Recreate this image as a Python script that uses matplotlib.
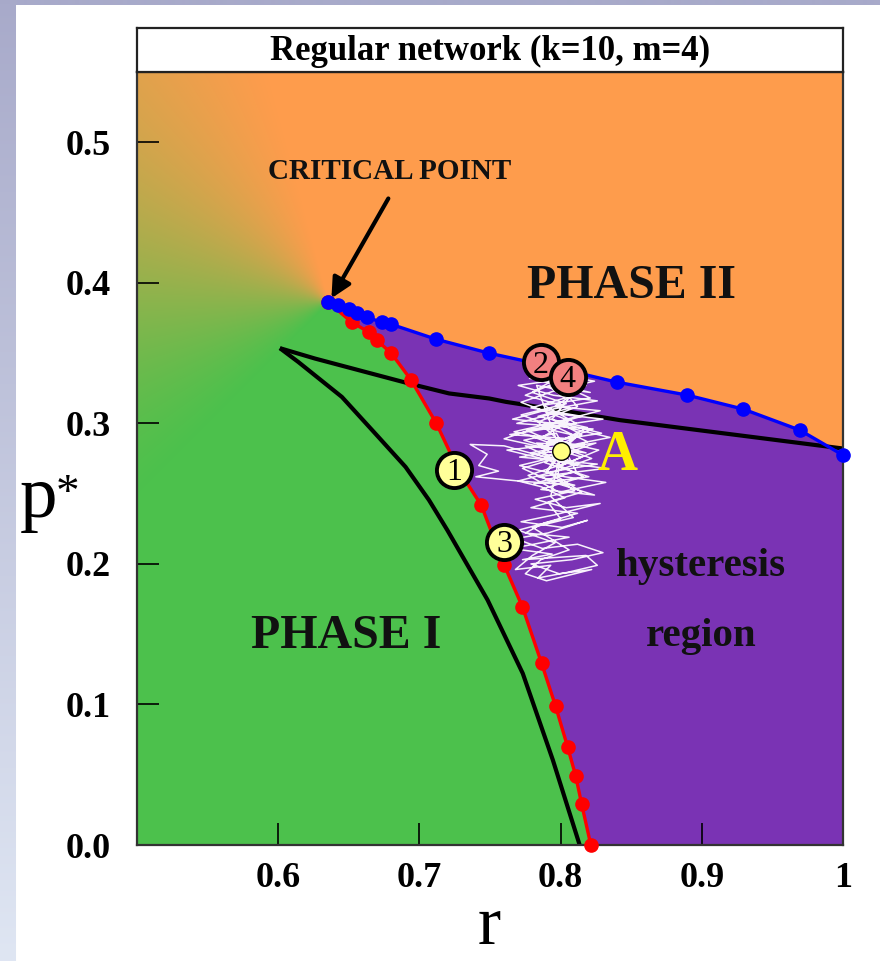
import numpy as np
import matplotlib
matplotlib.use("Agg")
import matplotlib.pyplot as plt

# ---- data -------------------------------------------------------------
# upper spinodal (blue): r, p*
blue_r = [0.6356, 0.6427, 0.6498, 0.6555, 0.6626, 0.6733, 0.6797, 0.7117,
          0.7495, 0.7950, 0.8399, 0.8897, 0.9295, 0.9694, 1.0000]
blue_p = [0.3862, 0.3841, 0.3812, 0.3784, 0.3755, 0.3720, 0.3706, 0.3599,
          0.3499, 0.3400, 0.3293, 0.3201, 0.3101, 0.2952, 0.2774]

# lower spinodal (red): r, p*
red_r = [0.6356, 0.6520, 0.6640, 0.6700, 0.6800, 0.6940, 0.7120, 0.7270,
         0.7438, 0.7601, 0.7730, 0.7865, 0.7964, 0.8050, 0.8107, 0.8149, 0.8214]
red_p = [0.3862, 0.3720, 0.3650, 0.3590, 0.3500, 0.3310, 0.3000, 0.2680,
         0.2418, 0.1991, 0.1693, 0.1294, 0.0989, 0.0697, 0.0491, 0.0292, 0.0000]

# black curves from the cusp
upper_r = [0.6012, 0.6261, 0.6617, 0.6925, 0.7210, 0.7495, 0.7613, 0.8064,
           0.8420, 1.0000]
upper_p = [0.3535, 0.3461, 0.3366, 0.3284, 0.3213, 0.3177, 0.3153, 0.3082,
           0.3023, 0.2821]
lower_r = [0.6012, 0.6142, 0.6451, 0.6688, 0.6902, 0.7068, 0.7198, 0.7483,
           0.7732, 0.7945, 0.8135]
lower_p = [0.3535, 0.3437, 0.3188, 0.2927, 0.2690, 0.2454, 0.2240, 0.1743,
           0.1221, 0.0605, 0.0000]

# trajectory around point A
traj = [
    (0.800, 0.280), (0.812, 0.291), (0.786, 0.297), (0.815, 0.305), (0.779, 0.311),
    (0.803, 0.318), (0.792, 0.326), (0.821, 0.322), (0.783, 0.331), (0.808, 0.336),
    (0.776, 0.340), (0.798, 0.344), (0.812, 0.333), (0.770, 0.327), (0.795, 0.320),
    (0.826, 0.316), (0.788, 0.309), (0.766, 0.303), (0.805, 0.299), (0.829, 0.293),
    (0.790, 0.287), (0.818, 0.279), (0.775, 0.284), (0.801, 0.272), (0.832, 0.268),
    (0.784, 0.262), (0.810, 0.256), (0.770, 0.259), (0.797, 0.266), (0.822, 0.275),
    (0.779, 0.291), (0.806, 0.286), (0.762, 0.281), (0.791, 0.274), (0.816, 0.262),
    (0.786, 0.253), (0.824, 0.249), (0.795, 0.258), (0.773, 0.268), (0.809, 0.279),
    (0.784, 0.301), (0.812, 0.312), (0.795, 0.331), (0.780, 0.322), (0.804, 0.314),
    (0.772, 0.306), (0.800, 0.296), (0.819, 0.287), (0.789, 0.276),
    (0.760, 0.284), (0.736, 0.285), (0.748, 0.278), (0.742, 0.270), (0.756, 0.266),
    (0.740, 0.262), (0.770, 0.259), (0.786, 0.255),
    (0.803, 0.247), (0.779, 0.240), (0.812, 0.236), (0.788, 0.229), (0.775, 0.222),
    (0.806, 0.219), (0.781, 0.214), (0.765, 0.211), (0.794, 0.207), (0.773, 0.203),
    (0.818, 0.206), (0.826, 0.199), (0.805, 0.194), (0.784, 0.190), (0.793, 0.199),
    (0.768, 0.196), (0.780, 0.206), (0.796, 0.215), (0.770, 0.224), (0.800, 0.232),
    (0.791, 0.244), (0.815, 0.251), (0.798, 0.262), (0.800, 0.280),
    (0.783, 0.286), (0.817, 0.284), (0.771, 0.276), (0.826, 0.271), (0.790, 0.265),
    (0.808, 0.289), (0.764, 0.292), (0.801, 0.298), (0.835, 0.290), (0.779, 0.279),
    (0.812, 0.270), (0.786, 0.283), (0.823, 0.296), (0.769, 0.300), (0.795, 0.307),
    (0.830, 0.303), (0.776, 0.295), (0.804, 0.283), (0.789, 0.272), (0.820, 0.262),
    (0.781, 0.257), (0.811, 0.266), (0.797, 0.293), (0.774, 0.288), (0.815, 0.276),
    (0.798, 0.269), (0.827, 0.281), (0.787, 0.290), (0.806, 0.302), (0.772, 0.315),
    (0.801, 0.325), (0.824, 0.330), (0.790, 0.336), (0.814, 0.342), (0.785, 0.345),
    (0.803, 0.339), (0.778, 0.332), (0.818, 0.327), (0.796, 0.312), (0.828, 0.309),
    (0.793, 0.300), (0.767, 0.294), (0.799, 0.287), (0.819, 0.297), (0.784, 0.305),
    (0.807, 0.311), (0.775, 0.320), (0.797, 0.329), (0.821, 0.318), (0.788, 0.313),
    (0.811, 0.300), (0.780, 0.296), (0.760, 0.289), (0.792, 0.282), (0.825, 0.286),
    (0.796, 0.276), (0.771, 0.270), (0.803, 0.262), (0.832, 0.258), (0.799, 0.251),
    (0.777, 0.263), (0.808, 0.273), (0.786, 0.279), (0.815, 0.292), (0.794, 0.303),
    (0.809, 0.322), (0.783, 0.327), (0.800, 0.280),
    (0.790, 0.266), (0.810, 0.252), (0.782, 0.246), (0.804, 0.240), (0.828, 0.243),
    (0.796, 0.235), (0.772, 0.230), (0.801, 0.226), (0.819, 0.231), (0.791, 0.222),
    (0.768, 0.218), (0.787, 0.211), (0.812, 0.214), (0.830, 0.208), (0.808, 0.203),
    (0.779, 0.200), (0.799, 0.193), (0.822, 0.196), (0.790, 0.188), (0.775, 0.193),
    (0.786, 0.203), (0.806, 0.210), (0.780, 0.226), (0.809, 0.233), (0.793, 0.248),
    (0.800, 0.280),
]

point_A = (0.80, 0.28)
marker_labels = ["1", "2", "3", "4"]
marker_r = [0.7246, 0.7858, 0.7600, 0.8050]
marker_p = [0.2667, 0.3435, 0.2155, 0.3330]
marker_face = ["#ffff99", "#f28080", "#ffff99", "#f28080"]

xticks = [0.6, 0.7, 0.8, 0.9, 1.0]
xtick_labels = ["0.6", "0.7", "0.8", "0.9", "1"]
yticks = [0.0, 0.1, 0.2, 0.3, 0.4, 0.5]
ytick_labels = ["0.0", "0.1", "0.2", "0.3", "0.4", "0.5"]

ORANGE = np.array([254, 156, 76]) / 255
GREEN = np.array([76, 193, 76]) / 255
PURPLE = np.array([122, 51, 180]) / 255

SERIF = ["Liberation Serif", "DejaVu Serif"]

W, H = 880, 961
fig = plt.figure(figsize=(W / 100, H / 100), dpi=100)

# slide-style backdrop: bluish strips at the left and top edges
bg = np.ones((H, W, 3))
top_c = np.array([168, 170, 202]) / 255
bot_c = np.array([223, 230, 243]) / 255
fr = np.linspace(0, 1, H)[:, None]
bg[:, :16, :] = (top_c * (1 - fr) + bot_c * fr)[:, None, :]
bg[:5, :, :] = top_c
ax_bg = fig.add_axes([0, 0, 1, 1], zorder=-10)
ax_bg.imshow(bg, aspect="auto", extent=[0, 1, 0, 1])
ax_bg.axis("off")

# ---- main phase diagram ----------------------------------------------
x0, x1, y0, y1 = 0.5, 1.0, 0.0, 0.55
ax = fig.add_axes([137 / W, 116 / H, 706 / W, 773 / H])

nx, ny = 706, 773
gx = np.linspace(x0, x1, nx)
gy = np.linspace(y0, y1, ny)
R, P = np.meshgrid(gx, gy)
rc, pc = blue_r[0], blue_p[0]

# angular blend orange -> green around the critical point
theta = np.degrees(np.arctan2(P - pc, R - rc)) % 360
t = np.clip((theta - 105) / (225 - 105), 0, 1)
t = 0.6 * t + 0.4 * t * t * (3 - 2 * t)
t[(theta > 225) & (theta < 332)] = 1.0
t[theta >= 332] = 0.0
img = ORANGE[None, None, :] * (1 - t[..., None]) + GREEN[None, None, :] * t[..., None]

# hysteresis region between the two spinodals
pb = np.interp(R, blue_r, blue_p)
rr = np.interp(P, red_p[::-1], red_r[::-1])
purple = (R >= rc) & (P <= pb) & (R >= rr)
img[purple] = PURPLE

ax.imshow(img, origin="lower", extent=[x0, x1, y0, y1], aspect="auto",
          interpolation="bilinear", zorder=0)

ax.plot(upper_r, upper_p, color="black", lw=3.0, zorder=2, solid_capstyle="butt")
ax.plot(lower_r, lower_p, color="black", lw=3.0, zorder=2, solid_capstyle="butt")

tr = [q[0] for q in traj]
tp = [q[1] for q in traj]
ax.plot(tr, tp, color="#f8f3fc", lw=1.1, zorder=3)

ax.plot(red_r, red_p, color="#ff0000", lw=2.4, marker="o", ms=9.5, zorder=4,
        clip_on=False)
ax.plot(blue_r, blue_p, color="#0000ff", lw=2.4, marker="o", ms=9.5, zorder=5,
        clip_on=False)

ax.scatter([point_A[0]], [point_A[1]], s=160, facecolor="#ffff80",
           edgecolor="black", linewidth=1.0, zorder=6)

for lab, mr, mp, fc in zip(marker_labels, marker_r, marker_p, marker_face):
    ax.scatter([mr], [mp], s=640, facecolor=fc, edgecolor="black",
               linewidth=2.8, zorder=7)
    ax.text(mr, mp - 0.002, lab, ha="center", va="center", fontsize=23,
            family=SERIF, zorder=8)

# annotations
ax.annotate("", xy=(0.6377, 0.389), xytext=(0.678, 0.460),
            arrowprops=dict(arrowstyle="-|>", color="black", lw=3,
                            mutation_scale=30, shrinkA=0, shrinkB=0), zorder=9)
ax.text(0.679, 0.479, "CRITICAL POINT", ha="center", va="center", fontsize=21,
        family=SERIF, weight="bold", color="#111111", zorder=9)
ax.text(0.850, 0.398, "PHASE II", ha="center", va="center", fontsize=34.5,
        family=SERIF, weight="bold", color="#111111", zorder=9)
ax.text(0.648, 0.149, "PHASE I", ha="center", va="center", fontsize=34.5,
        family=SERIF, weight="bold", color="#111111", zorder=9)
ax.text(0.8996, 0.198, "hysteresis", ha="center", va="center", fontsize=29.5,
        family=SERIF, weight="bold", color="#111111", zorder=9)
ax.text(0.8996, 0.148, "region", ha="center", va="center", fontsize=29.5,
        family=SERIF, weight="bold", color="#111111", zorder=9)
ax.text(0.840, 0.277, "A", ha="center", va="center", fontsize=40,
        family=SERIF, weight="bold", color="#ffee00", zorder=9)

ax.set_xlim(x0, x1)
ax.set_ylim(y0, y1)
ax.set_xticks(xticks)
ax.set_xticklabels(xtick_labels)
ax.set_yticks(yticks)
ax.set_yticklabels(ytick_labels)
ax.tick_params(axis="both", direction="in", length=16, width=1.2,
               top=False, right=False)
ax.tick_params(axis="x", pad=12)
ax.tick_params(axis="y", pad=19)
for lbl in ax.get_xticklabels() + ax.get_yticklabels():
    lbl.set_family(SERIF)
    lbl.set_weight("bold")
    lbl.set_fontsize(26)
for s in ax.spines.values():
    s.set_linewidth(1.6)
    s.set_color("#333333")

# axis labels
fig.text(489 / W, 1 - 944 / H, "r", ha="center", va="baseline", fontsize=50,
         family=SERIF)
fig.text(20 / W, 1 - 517 / H, "p", ha="left", va="baseline", fontsize=54,
         family=SERIF)
fig.text(56 / W, 1 - 506 / H, "*", ha="left", va="baseline", fontsize=34,
         family=SERIF)

# title strip
ax_t = fig.add_axes([137 / W, (H - 72) / H, 706 / W, 44 / H])
ax_t.set_xticks([])
ax_t.set_yticks([])
ax_t.set_facecolor("white")
for s in ax_t.spines.values():
    s.set_linewidth(1.6)
    s.set_color("#222222")
ax_t.text(0.5, 0.47, "Regular network (k=10, m=4)", ha="center", va="center",
          fontsize=25, family=SERIF, weight="bold", transform=ax_t.transAxes)

fig.savefig("out.png", dpi=100)
